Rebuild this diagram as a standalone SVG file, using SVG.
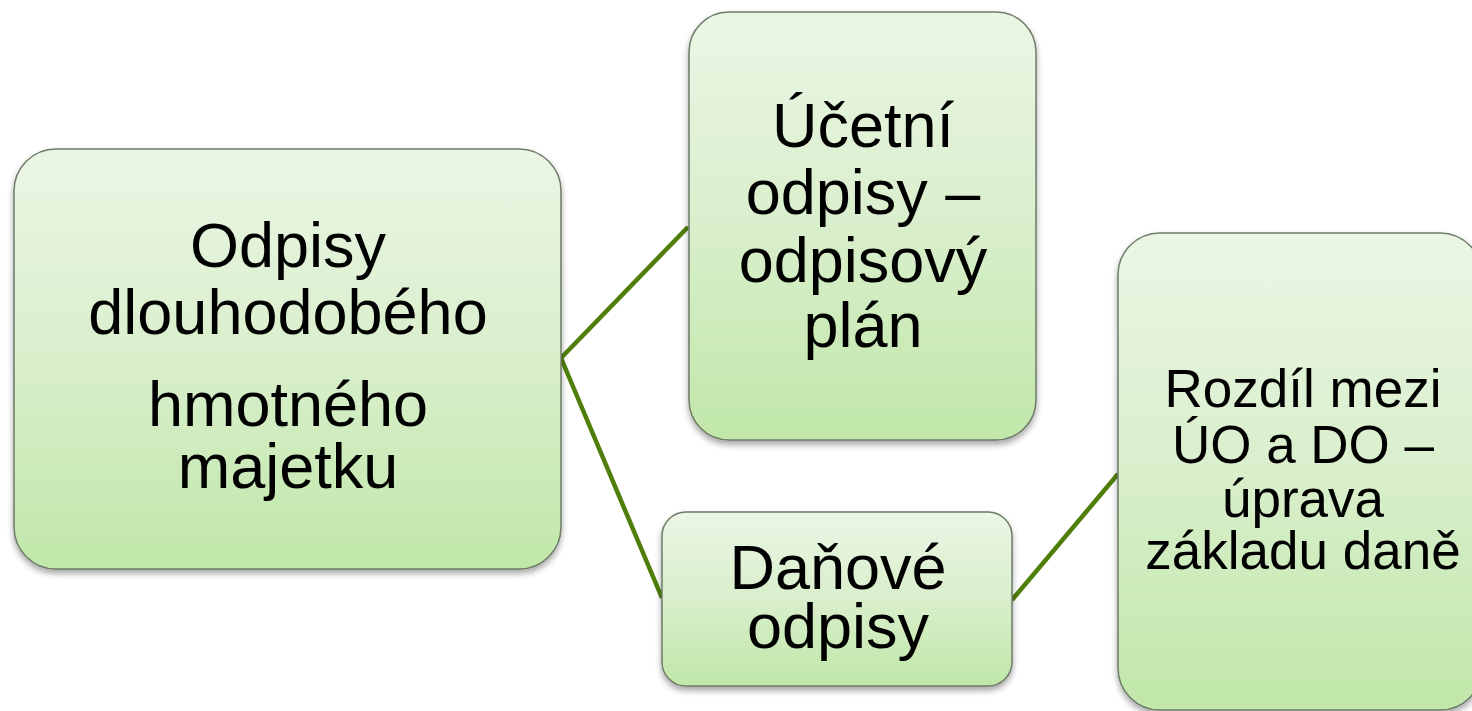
<svg xmlns="http://www.w3.org/2000/svg" width="1472" height="711" viewBox="0 0 1472 711">
<defs>
<linearGradient id="g" x1="0" y1="0" x2="0" y2="1">
<stop offset="0" stop-color="#EBF6E5"/>
<stop offset="0.5" stop-color="#D9EFCC"/>
<stop offset="1" stop-color="#C0E7A8"/>
</linearGradient>
<filter id="sh" x="-10%" y="-10%" width="120%" height="125%">
<feGaussianBlur in="SourceAlpha" stdDeviation="3"/>
<feOffset dx="0" dy="4" result="b"/>
<feComponentTransfer><feFuncA type="linear" slope="0.35"/></feComponentTransfer>
<feMerge><feMergeNode/><feMergeNode in="SourceGraphic"/></feMerge>
</filter>
</defs>
<style>
.box{fill:url(#g);stroke:#6E7B68;stroke-width:1.5;filter:url(#sh)}
.t{font-family:"Liberation Sans",Arial,sans-serif;fill:#000;text-anchor:middle}
.big{font-size:63px}
.small{font-size:53px}
.c{stroke:#4F7F0A;stroke-width:4.5;fill:none}
</style>
<rect width="1472" height="711" fill="#fff"/>
<g id="connectors">
<line class="c" x1="561" y1="358" x2="688" y2="227"/>
<line class="c" x1="561" y1="358" x2="662" y2="598"/>
<line class="c" x1="1012" y1="600" x2="1118" y2="474"/>
</g>
<g id="node1">
<rect class="box" x="14" y="149" width="547" height="420" rx="42"/>
<text class="t big" x="288" y="267">Odpisy</text>
<text class="t big" x="288" y="334">dlouhodobého</text>
<text class="t big" x="288" y="426">hmotného</text>
<text class="t big" x="288" y="488">majetku</text>
</g>
<g id="node2">
<rect class="box" x="689" y="12" width="347" height="428" rx="40"/>
<text class="t big" x="863" y="147">Účetní</text>
<text class="t big" x="863" y="214">odpisy –</text>
<text class="t big" x="863" y="282">odpisový</text>
<text class="t big" x="863" y="347">plán</text>
</g>
<g id="node3">
<rect class="box" x="662" y="512" width="350" height="174" rx="24"/>
<text class="t big" x="838" y="589">Daňové</text>
<text class="t big" x="838" y="648">odpisy</text>
</g>
<g id="node4">
<rect class="box" x="1118" y="233" width="364" height="477" rx="42"/>
<text class="t small" x="1303" y="407">Rozdíl mezi</text>
<text class="t small" x="1303" y="463">ÚO a DO –</text>
<text class="t small" x="1303" y="517">úprava</text>
<text class="t small" x="1303" y="569">základu daně</text>
</g>
</svg>
